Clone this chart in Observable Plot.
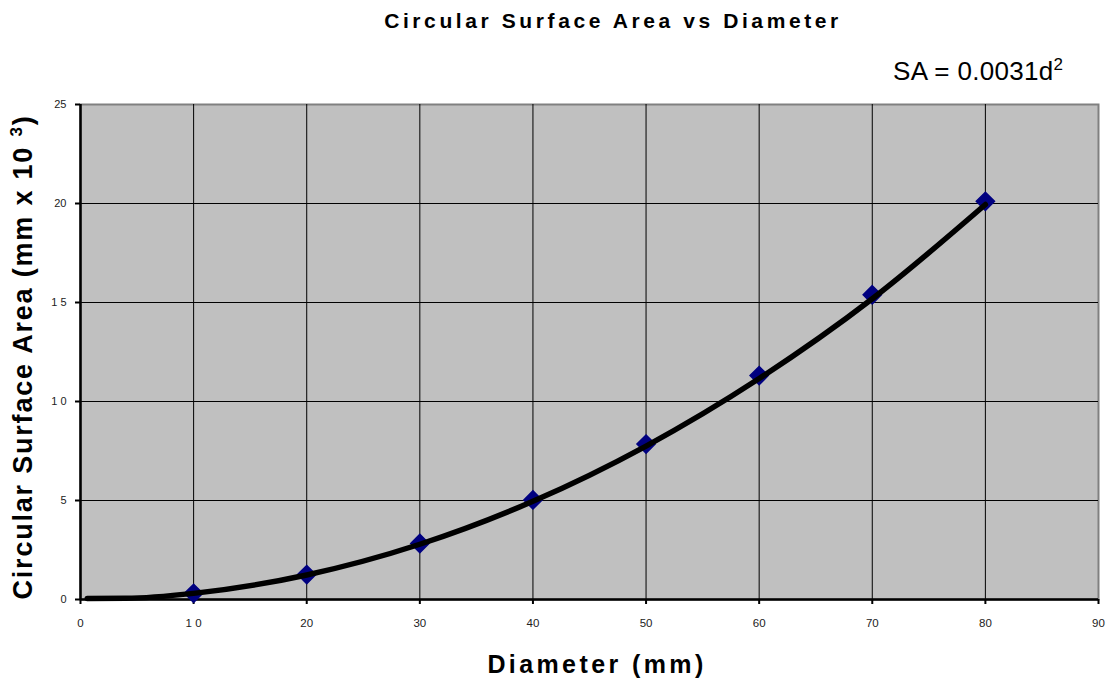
<!DOCTYPE html>
<html>
<head>
<meta charset="utf-8">
<script src="https://cdn.jsdelivr.net/npm/d3@7"></script>
<script src="https://cdn.jsdelivr.net/npm/@observablehq/plot@0.6"></script>
<style>
  body { margin: 0; background: #fff; font-family: "Liberation Sans", Arial, sans-serif; }
  #wrap { position: relative; width: 1106px; height: 679px; overflow: hidden; }
  #chart { position: absolute; left: 0; top: 0; }
  .t { position: absolute; white-space: nowrap; color: #000; line-height: 1; }
  #title { left: 313px; width: 600px; top: 10px; text-align: center; font-weight: bold; font-size: 21px; letter-spacing: 3.6px; }
  #eq { left: 893px; top: 58px; font-size: 26px; letter-spacing: 0.3px; }
  #xt { left: 297px; width: 600px; top: 652px; text-align: center; font-weight: bold; font-size: 25px; letter-spacing: 3.4px; }
  #yt { left: 23px; top: 357px; font-weight: bold; font-size: 27px; letter-spacing: 1.8px; transform: translate(-50%, -50%) rotate(-90deg); }
</style>
</head>
<body>
<div id="wrap">
  <div id="chart"></div>
  <div class="t" id="title">Circular Surface Area vs Diameter</div>
  <div class="t" id="eq">SA = 0.0031d<sup style="font-size:17px;vertical-align:10px;line-height:0">2</sup></div>
  <div class="t" id="xt">Diameter (mm)</div>
  <div class="t" id="yt">Circular Surface Area (mm x 10 <sup style="font-size:17px;vertical-align:10px;line-height:0">3</sup>)</div>
</div>
<script>
// Measured points
const diameters = [10, 20, 30, 40, 50, 60, 70, 80];
const areas = [0.31, 1.26, 2.83, 5.03, 7.85, 11.31, 15.39, 20.11];

// Trendline
const trendD = [0.6, 4, 10, 20, 30, 40, 50, 60, 70, 80];
const trendA = [0.05, 0.06, 0.31, 1.24, 2.79, 4.96, 7.75, 11.16, 15.19, 19.95];

// Axis ticks and labels
const xTicks = [0, 10, 20, 30, 40, 50, 60, 70, 80, 90];
const xTickLabels = ["0", "1 0", "20", "30", "40", "50", "60", "70", "80", "90"];
const yTicks = [0, 5, 10, 15, 20, 25];
const yTickLabels = ["0", "5", "1 0", "1 5", "20", "25"];

const points = diameters.map((d, i) => ({d, a: areas[i]}));
const trend = trendD.map((d, i) => ({d, a: trendA[i]}));

const chart = Plot.plot({
  width: 1106,
  height: 679,
  marginLeft: 80,
  marginRight: 8,
  marginTop: 104,
  marginBottom: 80,
  style: {fontFamily: "Liberation Sans, Arial, sans-serif", background: "transparent"},
  x: {domain: [0, 90]},
  y: {domain: [0, 25]},
  marks: [
    Plot.frame({fill: "#c0c0c0", stroke: "#808080", strokeWidth: 2}),
    Plot.ruleX(xTicks.slice(1, -1), {stroke: "#000", strokeWidth: 1}),
    Plot.ruleY(yTicks.slice(1, -1), {stroke: "#000", strokeWidth: 1}),
    Plot.ruleX([0], {stroke: "#000", strokeWidth: 2.5}),
    Plot.ruleY([0], {stroke: "#000", strokeWidth: 2.5}),
    Plot.axisX({ticks: xTicks, tickFormat: (d) => xTickLabels[xTicks.indexOf(d)], tickSize: 5, tickPadding: 14, fontSize: 11.5, label: null, stroke: "#000", strokeWidth: 2, color: "#222"}),
    Plot.axisY({ticks: yTicks, tickFormat: (d) => yTickLabels[yTicks.indexOf(d)], tickSize: 5, tickPadding: 9, fontSize: 11, label: null, stroke: "#000", strokeWidth: 2, color: "#222"}),
    Plot.dot(points, {x: "d", y: "a", symbol: "diamond2", r: 8.2, fill: "#000080", stroke: "#000080"}),
    Plot.line(trend, {x: "d", y: "a", stroke: "#000", strokeWidth: 5.5, curve: "monotone-x"})
  ]
});
document.getElementById("chart").appendChild(chart);
</script>
</body>
</html>
